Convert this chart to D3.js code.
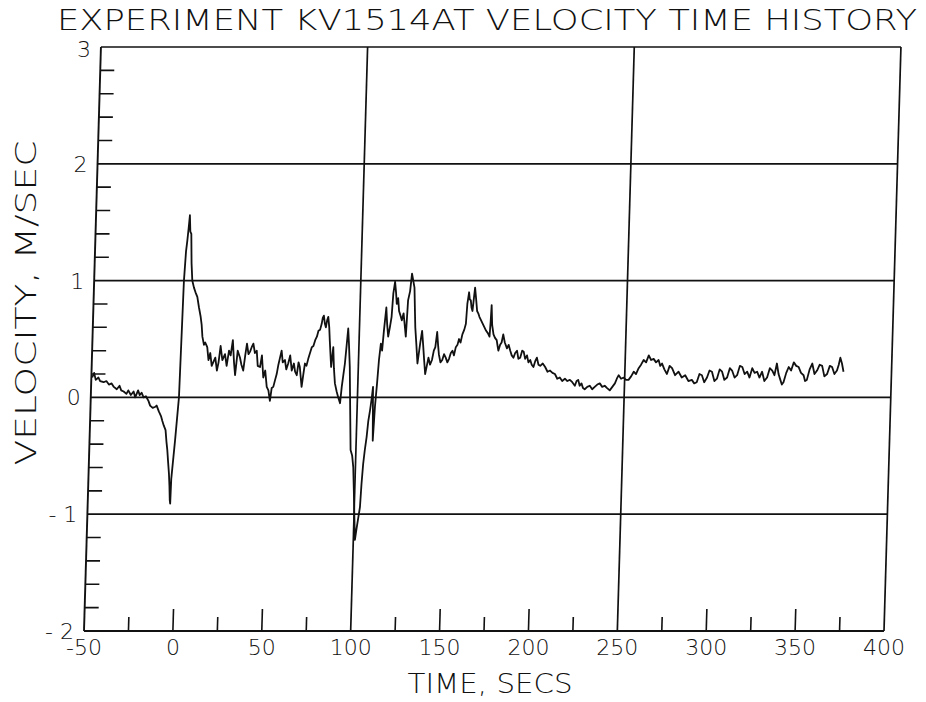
<!DOCTYPE html>
<html><head><meta charset="utf-8">
<script src="https://cdn.jsdelivr.net/npm/d3@7"></script>
<style>
html,body{margin:0;padding:0;background:#fff;}
svg{display:block;}
text{font-family:"DejaVu Sans",sans-serif;font-weight:200;fill:#111;}
</style></head>
<body>
<script>
// ---- data ----
const titleText = "EXPERIMENT KV1514AT VELOCITY TIME HISTORY";
const xLabelText = "TIME, SECS";
const yLabelText = "VELOCITY, M/SEC";
const xTickLabels = [-50, 0, 50, 100, 150, 200, 250, 300, 350, 400];
const yTickLabels = [-2, -1, 0, 1, 2, 3];
const xGridValues = [100, 250, 400];
const yGridValues = [-1, 0, 1, 2, 3];

const times = [
-49.5,-48.5,-47.5,-46,-45,-43,-41.5,-40,-38.5,-37.2,-35.5,-34,-33,-31.6,-30,-29,-27.5,-26,-25,-23.5,-22.5,-21.5,-20.3,-19,-17.5,-16.5,-15,-13.5,-12.8,-11.5,-10.2,-9.4,-8.5,-7.4,-6.7,-6.1,-5.4,-4.8,-4.3,-3.9,-3.6,-3.4,-1.9,-0.4,0.5,1.2,1.75,2.3,2.8,3.3,3.9,4.5,5.2,6.25,7.2,8.3,9.4,10.5,11.2,11.8,12.8,13.5,14.7,15.6,16.5,17.5,18.3,19.4,20.5,21.3,22.2,23.4,24.8,25.9,27.0,28.0,29.0,30.0,30.8,31.9,33.3,34.2,35.3,36.2,37.0,38.0,38.8,39.7,40.6,41.6,42.6,43.4,44.7,45.6,46.7,47.7,48.8,49.8,50.8,51.6,52.5,53.4,54.2,55.0,55.8,56.6,57.4,58.6,59.5,60.5,61.5,62.6,63.7,64.5,65.5,66.3,67.1,68.4,69.2,69.9,70.8,71.7,72.6,73.5,74.4,75.3,76.2,77.0,77.9,78.7,79.2,79.8,80.5,81.1,81.7,82.3,83.0,83.5,84.7,85.6,86.3,87.1,88.2,89.2,90.3,91.0,91.7,92.4,93.1,93.7,94.4,95.2,96.1,97.0,98.0,98.8,99.5,100.1,100.9,101.5,102.0,103.2,103.7,104.3,105.0,105.8,106.5,107.3,108.1,108.6,109.3,110.0,110.8,111.5,112.3,113.1,113.8,114.8,115.5,116.3,117.1,117.9,118.5,119.3,120.0,120.6,121.3,122.0,122.9,123.7,124.6,125.4,126.2,126.9,127.9,128.7,129.5,130.3,130.9,131.4,132.3,133.2,134.4,135.3,136.1,136.9,137.7,138.5,139.3,140.3,141.3,142.2,143.0,143.8,144.5,145.1,146.1,147.1,148.0,149.0,150.0,150.9,151.8,152.7,153.6,154.5,155.4,156.2,157.1,158.0,159.0,159.8,160.3,161.1,161.6,162.2,162.7,163.3,163.9,164.4,165.1,165.9,166.6,167.3,168.3,169.3,170.3,171.3,172.3,173.3,173.7,174.0,174.6,175.5,176.4,177.4,178.0,178.5,179.4,180.2,181.0,182.0,183.3,184.2,185.2,186.1,187.1,188.0,189.0,189.9,190.9,191.9,192.8,193.7,194.7,195.6,196.6,197.5,198.5,199.4,200.3,201.3,202.3,203.7,205.1,206.5,207.9,209.3,210.7,212.1,213.5,214.9,216.4,217.8,219.2,220.6,222.1,223.0,223.9,224.8,225.8,226.7,227.7,229.1,230.5,231.9,233.3,234.7,236.1,237.5,238.9,240.3,241.8,243.2,244.6,245.6,246.6,248.0,249.4,250.8,252.2,253.6,255.0,256.3,257.7,259.0,260.4,261.8,263.2,264.6,266.0,267.4,268.8,269.8,270.8,272.2,273.7,275.1,276.5,278.3,280.2,282.1,284.0,285.9,287.8,289.2,290.6,292.0,293.4,294.8,296.3,297.6,299.0,300.5,301.9,303.3,304.7,306.1,307.6,309.0,310.3,311.8,313.2,314.6,316.0,317.4,318.8,320.2,321.6,323.0,324.4,325.8,327.2,328.6,330.1,331.5,332.9,334.2,335.4,336.5,337.6,338.5,339.4,340.8,342.1,343.5,344.9,346.3,347.7,349.1,350.6,351.5,352.5,353.9,355.3,356.7,358.1,359.5,360.9,362.3,363.8,365.2,366.5,367.9,369.3,370.2,371.0,372.0,373.0
];
const velocities = [
0.17,0.21,0.15,0.17,0.14,0.13,0.14,0.11,0.12,0.09,0.07,0.10,0.06,0.05,0.03,0.06,0.02,0.05,0.00,0.06,0.02,0.04,0.00,0.01,-0.03,-0.07,-0.09,-0.08,-0.07,-0.12,-0.16,-0.20,-0.24,-0.28,-0.38,-0.45,-0.56,-0.65,-0.76,-0.88,-0.91,-0.70,-0.37,0.00,1.00,1.25,1.34,1.45,1.56,1.42,1.40,1.15,1.00,0.94,0.90,0.86,0.77,0.69,0.62,0.52,0.45,0.47,0.43,0.32,0.38,0.27,0.30,0.34,0.23,0.30,0.44,0.32,0.37,0.27,0.40,0.36,0.49,0.30,0.19,0.40,0.34,0.28,0.23,0.36,0.46,0.37,0.39,0.43,0.46,0.38,0.40,0.27,0.26,0.36,0.17,0.23,0.09,0.06,-0.03,0.08,0.09,0.15,0.20,0.28,0.34,0.40,0.30,0.32,0.24,0.29,0.36,0.23,0.29,0.22,0.19,0.30,0.26,0.09,0.20,0.29,0.27,0.33,0.38,0.43,0.44,0.49,0.52,0.57,0.58,0.63,0.68,0.70,0.63,0.60,0.66,0.69,0.60,0.49,0.26,0.43,0.25,0.12,0.05,0.00,-0.05,0.09,0.19,0.29,0.45,0.59,0.45,0.26,-0.10,-0.45,-0.50,-0.60,-0.80,-0.99,-1.22,-1.14,-1.08,-0.94,-0.74,-0.57,-0.45,-0.34,-0.20,-0.11,0.00,0.09,-0.37,-0.08,0.12,0.32,0.46,0.40,0.57,0.77,0.63,0.52,0.60,0.69,0.89,0.99,0.90,0.80,0.85,0.74,0.70,0.66,0.72,0.62,0.52,0.83,0.91,1.06,1.00,0.94,0.75,0.60,0.45,0.29,0.46,0.57,0.45,0.32,0.20,0.27,0.34,0.28,0.32,0.40,0.43,0.56,0.45,0.37,0.30,0.32,0.37,0.34,0.30,0.33,0.38,0.40,0.36,0.43,0.45,0.50,0.47,0.54,0.58,0.63,0.80,0.90,0.84,0.83,0.77,0.74,0.85,0.94,0.85,0.74,0.72,0.69,0.66,0.63,0.60,0.57,0.55,0.52,0.65,0.79,0.62,0.54,0.51,0.49,0.44,0.40,0.45,0.47,0.54,0.47,0.42,0.45,0.40,0.36,0.34,0.38,0.40,0.33,0.34,0.40,0.39,0.33,0.36,0.30,0.32,0.28,0.26,0.31,0.34,0.28,0.27,0.29,0.26,0.22,0.23,0.21,0.20,0.16,0.17,0.14,0.16,0.14,0.15,0.13,0.10,0.14,0.15,0.10,0.12,0.08,0.07,0.09,0.10,0.07,0.09,0.11,0.12,0.09,0.10,0.08,0.06,0.09,0.12,0.16,0.19,0.16,0.17,0.15,0.15,0.18,0.22,0.20,0.25,0.28,0.32,0.30,0.36,0.32,0.33,0.30,0.32,0.27,0.29,0.24,0.20,0.27,0.25,0.19,0.22,0.17,0.19,0.14,0.15,0.12,0.13,0.20,0.19,0.13,0.17,0.23,0.22,0.14,0.16,0.24,0.22,0.15,0.17,0.25,0.23,0.17,0.19,0.27,0.26,0.20,0.22,0.17,0.25,0.21,0.22,0.17,0.22,0.14,0.17,0.25,0.23,0.19,0.29,0.20,0.15,0.11,0.13,0.21,0.26,0.23,0.30,0.27,0.26,0.21,0.19,0.14,0.15,0.24,0.29,0.20,0.23,0.28,0.27,0.18,0.20,0.27,0.26,0.20,0.23,0.28,0.34,0.29,0.22
];

// ---- layout ----
const W = 926, H = 702;
const plotLeft = 84, plotRight = 884, plotTop = 47, plotBottom = 631;
const skewK = 0.029;   // the scanned frame leans: top edge sits right of the bottom edge
const skewDeg = -Math.atan(skewK) * 180 / Math.PI;

const svg = d3.select("body").append("svg").attr("width", W).attr("height", H);

const x = d3.scaleLinear().domain([-50, 400]).range([plotLeft, plotRight]);
const y = d3.scaleLinear().domain([-2, 3]).range([plotBottom, plotTop]);

const g = svg.append("g")
  .attr("transform", `translate(0,${plotBottom}) skewX(${skewDeg}) translate(0,${-plotBottom})`);

const ink = "#111";

// minor ticks - left axis (inward)
const yMinor = d3.range(-2, 3.001, 0.2).filter(v => Math.abs(v - Math.round(v)) > 1e-6);
g.append("g").selectAll("line").data(yMinor).join("line")
  .attr("x1", x(-50)).attr("x2", x(-50) + 14)
  .attr("y1", d => y(d)).attr("y2", d => y(d))
  .attr("stroke", ink).attr("stroke-width", 1.6);

// bottom ticks (inward, major longer)
const xTicksAll = d3.range(-25, 400, 25).filter(v => !xGridValues.includes(v));
g.append("g").selectAll("line").data(xTicksAll).join("line")
  .attr("x1", d => x(d)).attr("x2", d => x(d))
  .attr("y1", y(-2)).attr("y2", d => y(-2) - (d % 50 === 0 ? 22 : 14))
  .attr("stroke", ink).attr("stroke-width", 1.6);

// grid lines (incl. top frame at 3 and right frame at 400)
g.append("g").selectAll("line").data(yGridValues).join("line")
  .attr("x1", x(-50)).attr("x2", x(400))
  .attr("y1", d => y(d)).attr("y2", d => y(d))
  .attr("stroke", ink).attr("stroke-width", 1.7);
g.append("g").selectAll("line").data(xGridValues).join("line")
  .attr("x1", d => x(d)).attr("x2", d => x(d))
  .attr("y1", y(-2)).attr("y2", y(3))
  .attr("stroke", ink).attr("stroke-width", 1.7);

// axes (left and bottom)
g.append("line").attr("x1", x(-50)).attr("x2", x(-50)).attr("y1", y(-2)).attr("y2", y(3))
  .attr("stroke", ink).attr("stroke-width", 1.9);
g.append("line").attr("x1", x(-50)).attr("x2", x(400)).attr("y1", y(-2)).attr("y2", y(-2))
  .attr("stroke", ink).attr("stroke-width", 1.9);

// data line
const pts = times.map((t, i) => [t, velocities[i]]);
g.append("path").datum(pts)
  .attr("d", d3.line().x(d => x(d[0])).y(d => y(d[1])))
  .attr("fill", "none").attr("stroke", ink).attr("stroke-width", 1.8)
  .attr("stroke-linejoin", "round");

// tick labels
svg.append("g").selectAll("text").data(xTickLabels).join("text")
  .attr("x", d => x(d)).attr("y", plotBottom + 24)
  .attr("text-anchor", "middle").attr("font-size", 22)
  .text(d => d < 0 ? "-" + Math.abs(d) : d);

svg.append("g").selectAll("text").data(yTickLabels).join("text")
  .attr("x", d => x(-50) + skewK * (plotBottom - y(d)) - 10)
  .attr("y", d => y(d) + (d === 3 ? 10 : 8))
  .attr("text-anchor", "end").attr("font-size", 22)
  .text(d => d < 0 ? "- " + Math.abs(d) : d);

// title and axis labels
svg.append("text").attr("x", 487).attr("y", 30)
  .attr("text-anchor", "middle").attr("font-size", 28)
  .attr("textLength", 860).attr("lengthAdjust", "spacingAndGlyphs")
  .text(titleText);

svg.append("text").attr("x", 490).attr("y", 693)
  .attr("text-anchor", "middle").attr("font-size", 27)
  .attr("textLength", 165).attr("lengthAdjust", "spacingAndGlyphs")
  .text(xLabelText);

svg.append("text").attr("transform", "translate(36,303) rotate(-90)")
  .attr("text-anchor", "middle").attr("font-size", 28)
  .attr("textLength", 325).attr("lengthAdjust", "spacingAndGlyphs")
  .text(yLabelText);
</script>
</body></html>
